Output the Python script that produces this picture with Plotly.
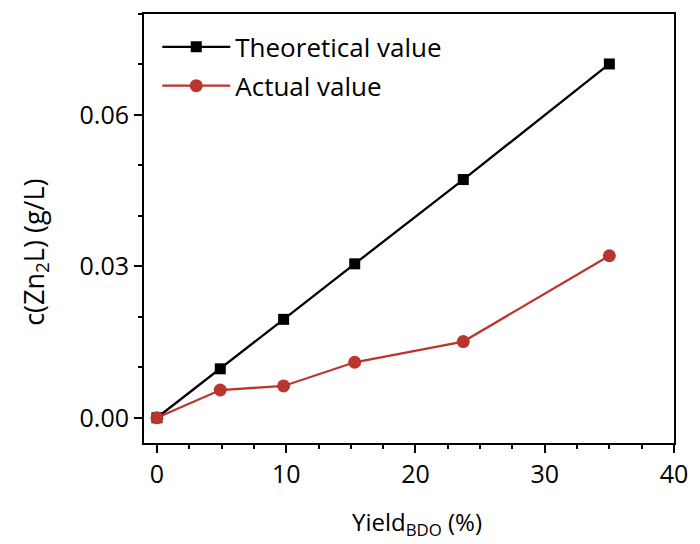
import plotly.graph_objects as go

yield_bdo = [0, 4.9, 9.8, 15.3, 23.7, 35.0]
theoretical = [0, 0.0097, 0.0195, 0.0305, 0.0472, 0.0701]
actual = [0, 0.0055, 0.0063, 0.0110, 0.0151, 0.0321]

FONT = "Open Sans"
fig = go.Figure()
fig.add_trace(go.Scatter(x=yield_bdo, y=theoretical, mode="lines+markers",
                         name="Theoretical value", legendgroup="a",
                         line=dict(color="black", width=2.3),
                         marker=dict(symbol="square", size=11, color="black")))
fig.add_trace(go.Scatter(x=yield_bdo, y=actual, mode="lines+markers",
                         name="Actual value", legendgroup="b",
                         line=dict(color="#bb3530", width=2.3),
                         marker=dict(symbol="circle", size=13, color="#bb3530")))

fig.update_layout(
    width=700, height=544,
    margin=dict(l=144, r=22, t=13, b=101),
    paper_bgcolor="white", plot_bgcolor="white",
    font=dict(family=FONT, size=25, color="black"),
    legend=dict(x=0.025, y=0.978, xanchor="left", yanchor="top",
                bgcolor="rgba(0,0,0,0)", font=dict(size=26),
                traceorder="grouped", tracegroupgap=2, itemwidth=68),
    xaxis=dict(range=[-1, 40], tickvals=[0, 10, 20, 30, 40],
               showline=True, linecolor="black", linewidth=2, mirror=True,
               ticks="outside", ticklen=8, tickwidth=2, tickcolor="black",
               minor=dict(dtick=2.5, tick0=0, ticks="outside", ticklen=4,
                          tickwidth=1.6, tickcolor="black"),
               showgrid=False, zeroline=False,
               tickfont=dict(size=25)),
    yaxis=dict(range=[-0.005, 0.08], tickvals=[0, 0.03, 0.06], tickformat=".2f",
               showline=True, linecolor="black", linewidth=2, mirror=True,
               ticks="outside", ticklen=8, tickwidth=2, tickcolor="black",
               minor=dict(dtick=0.01, tick0=0, ticks="outside", ticklen=4,
                          tickwidth=1.6, tickcolor="black"),
               showgrid=False, zeroline=False,
               tickfont=dict(size=25)),
)

fig.add_annotation(text="Yield<sub>BDO</sub> (%)", xref="paper", yref="paper",
                   x=0.515, y=-0.186, xanchor="center", yanchor="middle",
                   showarrow=False, font=dict(size=24))
fig.add_annotation(text="c(Zn<sub>2</sub>L) (g/L)", xref="paper", yref="paper",
                   x=-0.205, y=0.444, xanchor="center", yanchor="middle",
                   textangle=-90, showarrow=False, font=dict(size=27))

fig.write_html("out.html", config={"displayModeBar": False},
               post_script="document.body.style.margin='0';document.body.style.overflow='hidden';")
